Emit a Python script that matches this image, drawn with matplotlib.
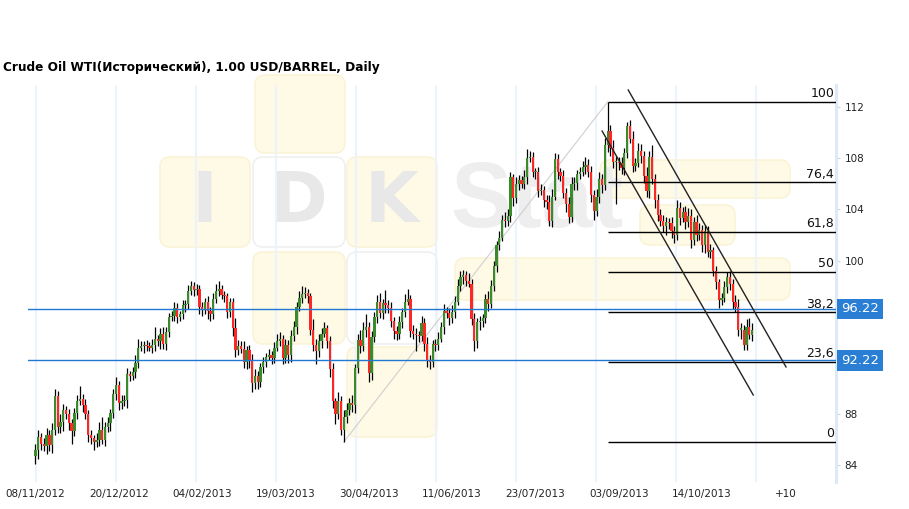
import numpy as np
import matplotlib.pyplot as plt
from matplotlib.patches import FancyBboxPatch
import matplotlib.transforms as mtransforms

## data
title = "Crude Oil WTI(Исторический), 1.00 USD/BARREL, Daily"

first_open = 84.7
close = [
    85.2, 86.2, 85.7, 85.5, 86.4, 85.6, 86.8, 89.4, 87.0, 87.4,
    88.3, 88.0, 87.3, 86.7, 88.1, 89.0, 89.2, 88.7, 88.0, 86.4,
    86.1, 85.8, 86.0, 86.8, 86.0, 87.0, 87.3, 88.1, 89.6, 90.3,
    88.9, 89.0, 89.1, 91.1, 91.0, 91.3, 92.0, 93.2, 93.3, 93.4,
    93.3, 93.2, 93.4, 93.9, 93.7, 94.3, 93.5, 94.4, 95.6, 95.7,
    96.3, 95.6, 95.8, 96.5, 96.6, 97.6, 98.0, 97.7, 97.8, 96.4,
    96.2, 96.8, 96.1, 95.8, 97.0, 97.6, 97.8, 97.3, 97.2, 96.0,
    96.8, 94.7, 93.0, 93.3, 93.1, 92.1, 93.0, 92.2, 90.4, 91.0,
    90.5, 91.7, 92.1, 92.5, 92.6, 92.4, 93.2, 93.7, 93.9, 92.4,
    93.4, 92.6, 94.1, 94.8, 96.4, 97.1, 97.4, 97.5, 97.2, 94.6,
    93.4, 92.9, 93.7, 94.3, 94.7, 93.7, 91.5, 89.0, 88.0, 89.0,
    86.8, 87.8, 88.3, 88.9, 88.7, 91.6, 93.8, 93.3, 94.6, 94.8,
    91.2, 94.0, 95.6, 96.8, 95.9, 96.7, 96.5, 96.3, 95.3, 94.5,
    94.3, 95.2, 96.0, 96.8, 97.0, 94.5, 94.3, 94.2, 94.1, 95.1,
    93.5, 92.2, 92.1, 93.5, 93.4, 93.9, 94.8, 96.1, 95.9, 95.5,
    96.0, 96.8, 98.0, 98.7, 98.9, 98.4, 98.2, 95.4, 93.7, 95.2,
    95.3, 95.5, 97.0, 96.6, 98.0, 99.6, 101.2, 101.8, 103.2, 103.1,
    103.5, 106.5, 104.9, 106.0, 106.3, 106.0, 106.5, 108.0, 108.1, 106.9,
    106.9, 105.4, 105.5, 104.7, 104.6, 103.1, 105.0, 107.9, 106.9, 106.6,
    105.3, 104.4, 103.4, 106.0, 106.1, 106.8, 106.9, 107.3, 107.5, 106.9,
    105.1, 103.9, 105.0, 106.4, 105.9, 109.0, 110.1, 108.8, 107.7, 107.7,
    107.6, 107.2, 108.4, 110.5, 109.5, 107.4, 107.6, 108.6, 108.2, 106.6,
    105.4, 108.1, 106.4, 104.7, 103.6, 103.1, 102.7, 103.0, 102.9, 102.3,
    102.0, 104.1, 103.3, 103.8, 103.0, 103.5, 101.6, 103.0, 102.0, 102.4,
    101.2, 102.3, 100.7, 100.8, 99.2, 98.3, 96.9, 97.1, 97.9, 98.7,
    98.2, 96.8, 96.4, 94.6, 94.6, 93.4, 94.8, 94.2, 94.6,
]
up_wick = [
    0.5, 0.6, 0.3, 0.4, 0.5, 0.4, 0.5, 0.6, 0.4, 0.6,
    0.5, 0.3, 0.4, 0.3, 0.4, 0.5, 1.0, 0.4, 0.5, 0.3,
    0.4, 0.3, 0.5, 0.6, 1.0, 0.4, 0.5, 0.3, 0.4, 0.6,
    0.3, 0.5, 0.4, 0.5, 0.3, 0.4, 0.6, 0.7, 0.4, 0.3,
    0.4, 0.3, 0.5, 0.9, 0.3, 0.4, 0.5, 0.4, 0.3, 0.4,
    0.5, 0.4, 0.3, 0.4, 0.3, 0.5, 0.4, 0.3, 0.4, 0.3,
    0.4, 0.3, 0.4, 0.3, 0.5, 0.6, 0.6, 0.3, 0.3, 0.3,
    0.3, 0.3, 0.8, 0.5, 0.4, 0.6, 0.3, 0.4, 0.5, 0.5,
    0.4, 0.3, 0.4, 0.3, 0.5, 0.3, 0.4, 0.6, 0.5, 0.3,
    0.5, 0.4, 0.5, 0.5, 0.4, 0.5, 0.6, 0.4, 0.3, 0.3,
    0.8, 0.5, 0.6, 0.4, 0.5, 0.3, 0.4, 0.5, 0.3, 0.7,
    0.4, 0.5, 0.6, 0.4, 0.6, 0.3, 0.5, 0.8, 0.6, 1.0,
    0.4, 0.5, 0.4, 0.5, 0.7, 0.3, 1.0, 0.4, 0.5, 0.3,
    0.4, 0.5, 0.3, 0.6, 0.8, 0.3, 0.5, 0.4, 0.3, 0.6,
    0.4, 0.5, 0.4, 0.3, 0.4, 0.5, 0.4, 0.5, 0.3, 0.4,
    0.5, 0.4, 0.6, 0.5, 0.4, 0.3, 0.6, 0.4, 0.5, 0.3,
    0.4, 0.3, 0.4, 0.6, 0.5, 0.4, 0.3, 0.5, 0.4, 0.6,
    0.5, 0.4, 0.3, 0.5, 0.4, 0.3, 0.6, 0.7, 0.5, 0.4,
    0.3, 0.4, 0.5, 0.3, 0.4, 0.5, 0.6, 0.5, 0.4, 0.3,
    0.5, 0.4, 0.6, 0.5, 0.4, 0.3, 0.4, 0.5, 0.6, 0.4,
    0.5, 0.4, 0.6, 0.5, 0.4, 0.6, 2.3, 0.5, 0.6, 0.5,
    0.4, 0.5, 0.4, 0.3, 0.5, 0.6, 0.4, 0.6, 0.5, 0.4,
    0.7, 0.5, 0.9, 0.4, 0.5, 0.4, 0.5, 0.4, 0.3, 0.5,
    0.4, 0.6, 0.5, 0.4, 0.5, 0.6, 0.5, 0.4, 0.6, 0.5,
    0.4, 0.5, 0.4, 0.5, 0.3, 0.4, 0.3, 0.4, 0.5, 0.4,
    0.5, 0.4, 0.5, 0.6, 0.5, 0.4, 0.6, 0.7, 0.5,
]
dn_wick = [
    0.6, 0.7, 0.5, 0.4, 0.6, 0.5, 0.6, 0.4, 0.5, 0.5,
    0.7, 0.4, 0.5, 1.0, 0.4, 0.5, 0.3, 0.5, 0.4, 0.6,
    0.4, 0.6, 0.4, 0.5, 0.3, 0.5, 0.4, 0.6, 0.4, 0.5,
    0.6, 0.5, 0.4, 0.6, 0.4, 0.3, 0.5, 0.4, 0.3, 0.5,
    0.4, 0.3, 0.4, 0.5, 0.4, 0.6, 0.4, 0.5, 0.4, 0.3,
    0.4, 0.5, 0.3, 0.4, 0.5, 0.4, 0.3, 0.5, 0.4, 0.6,
    0.5, 0.4, 0.7, 0.5, 0.4, 0.3, 0.4, 0.3, 0.4, 0.5,
    0.4, 0.6, 0.5, 0.4, 0.3, 0.5, 0.6, 0.6, 0.7, 0.4,
    0.5, 0.4, 0.5, 0.4, 0.3, 0.5, 0.4, 0.3, 0.4, 0.5,
    0.4, 0.6, 0.5, 0.4, 0.5, 0.3, 0.4, 0.3, 0.5, 0.4,
    0.5, 1.0, 0.4, 0.5, 0.3, 0.5, 0.6, 0.5, 0.8, 0.4,
    0.4, 0.97, 0.5, 0.4, 0.5, 0.6, 0.4, 0.5, 0.4, 0.6,
    0.7, 0.5, 0.4, 0.5, 0.4, 0.5, 0.6, 0.4, 0.5, 0.6,
    0.5, 0.4, 0.5, 0.4, 0.3, 0.5, 0.4, 1.3, 0.5, 0.4,
    0.6, 0.5, 0.6, 0.4, 0.5, 0.4, 0.3, 0.5, 0.4, 0.5,
    0.4, 0.5, 0.3, 0.4, 0.5, 0.4, 0.3, 0.4, 0.8, 0.5,
    0.6, 0.5, 0.4, 0.5, 0.3, 0.4, 0.5, 0.4, 0.3, 0.5,
    0.4, 0.5, 0.6, 0.4, 0.5, 0.3, 0.4, 0.5, 0.3, 0.4,
    0.5, 0.4, 0.3, 0.5, 0.6, 0.4, 0.5, 0.3, 0.5, 0.4,
    0.4, 0.6, 0.5, 0.4, 0.5, 0.6, 0.4, 0.3, 0.5, 0.4,
    0.5, 0.7, 0.4, 0.5, 0.6, 0.4, 0.5, 0.6, 0.5, 3.3,
    0.5, 0.4, 0.5, 0.4, 0.3, 0.5, 0.4, 0.3, 0.6, 0.5,
    0.4, 0.5, 0.4, 0.6, 0.5, 0.4, 0.5, 0.7, 0.4, 0.5,
    0.6, 0.4, 0.5, 0.3, 0.5, 0.4, 0.6, 0.4, 0.5, 0.4,
    0.5, 0.6, 0.4, 0.5, 0.4, 0.5, 0.6, 0.4, 0.3, 0.4,
    0.5, 0.6, 0.4, 0.5, 0.7, 0.4, 0.4, 0.3, 0.5,
]

date_labels = ["08/11/2012", "20/12/2012", "04/02/2013", "19/03/2013", "30/04/2013",
               "11/06/2013", "23/07/2013", "03/09/2013", "14/10/2013", "+10"]
date_pos = [0, 30, 60, 90, 120, 150, 180, 210, 240, 270]
y_ticks = [84, 88, 100, 104, 108, 112]

# fibonacci retracement drawn from the April low to the August high
fib_low, fib_high = 85.83, 112.4
fib_low_idx, fib_high_idx = 111, 206
fib_levels = [0, 23.6, 38.2, 50, 61.8, 76.4, 100]
fib_names = ["0", "23,6", "38,2", "50", "61,8", "76,4", "100"]

marked_levels = [96.22, 92.22]

# trend channel (index, price) end points
chan_a_x, chan_a_y = [213.4, 270.2], [113.33, 91.69]
chan_b_x, chan_b_y = [204.0, 258.4], [110.12, 89.5]

##Build Plot
W, H = 909, 509
fig = plt.figure(figsize=(W / 100, H / 100), dpi=100)

# watermark layer in pixel coordinates
bg = fig.add_axes([0, 0, 1, 1])
bg.set_xlim(0, W)
bg.set_ylim(H, 0)
bg.axis("off")

YEL, YEL_E = "#fefae6", "#faf3d6"
for (x, y, w, h, fc, ec) in [(255, 75, 90, 78, YEL, YEL_E), (160, 157, 90, 90, YEL, YEL_E),
                             (253, 157, 92, 90, "white", "#f0f0f0"), (347, 157, 90, 90, YEL, YEL_E),
                             (253, 252, 92, 92, YEL, YEL_E), (347, 252, 90, 92, "white", "#f0f0f0"),
                             (347, 347, 90, 90, YEL, YEL_E),
                             (455, 258, 335, 42, YEL, YEL_E), (600, 160, 190, 38, YEL, YEL_E),
                             (640, 205, 95, 40, YEL, YEL_E)]:
    bg.add_patch(FancyBboxPatch((x, y), w, h, boxstyle="round,pad=0,rounding_size=10",
                                fc=fc, ec=ec, lw=1.2))
for (x, s) in [(205, "I"), (299, "D"), (392, "K")]:
    bg.text(x, 203, s, fontsize=50, weight="bold", color="#e8e8e8", ha="center", va="center")
bg.text(450, 203, "Stat", fontsize=66, weight="bold", color="#eeeeee", ha="left", va="center",
        family="Liberation Sans")

ax = fig.add_axes([28 / W, 1 - 482 / H, 808 / W, 397 / H])
ax.patch.set_alpha(0)
ax.set_xlim(-2.7, 288.2)
ax.set_ylim(82.7, 113.72)

# vertical grid
for gx in [0.2 + 28.81 * k for k in range(10)]:
    ax.axvline(gx, color="#edf3fa", lw=1.5, zorder=0.5)

n = len(close)
idx = np.arange(n)
c = np.array(close)
o = np.array([first_open] + close[:-1])
hi = np.maximum(o, c) + np.array(up_wick)
lo = np.minimum(o, c) - np.array(dn_wick)
rise = c >= o

ax.vlines(idx, lo, hi, color="black", lw=0.9, zorder=2)
ax.bar(idx, np.maximum(np.abs(c - o), 0.1), bottom=np.minimum(o, c), width=0.82,
       color=np.where(rise, "#3a8c2a", "#ff2626"), lw=0, zorder=3)

# blue marked levels
for v in marked_levels:
    ax.axhline(v, color="#1f78d2", lw=1, zorder=4)
tr = mtransforms.blended_transform_factory(ax.transAxes, ax.transData)
for v in marked_levels:
    ax.text(1.006, v, f"{v:.2f}", transform=tr, color="white", fontsize=9.5, ha="left", va="center",
            bbox=dict(boxstyle="square,pad=0.3", fc="#2a7fd5", ec="none"), zorder=6, clip_on=False)

# fibonacci
ax.plot([fib_low_idx, fib_high_idx], [fib_low, fib_high], color="#cfcfcf", lw=0.8, zorder=1.5)
for lev, name in zip(fib_levels, fib_names):
    p = fib_low + (fib_high - fib_low) * lev / 100
    ax.hlines(p, fib_high_idx, 288.2, color="black", lw=1, zorder=4)
    ax.text(287.5, p + 0.12, name, ha="right", va="bottom", fontsize=9, color="#111111", zorder=5)

# channel
ax.plot(chan_a_x, chan_a_y, color="#222222", lw=1, zorder=4)
ax.plot(chan_b_x, chan_b_y, color="#222222", lw=1, zorder=4)

# axes styling
for s in ["top", "left", "bottom"]:
    ax.spines[s].set_visible(False)
ax.spines["right"].set_color("#dde9f5")
ax.spines["right"].set_linewidth(2.2)
ax.yaxis.tick_right()
ax.set_yticks(y_ticks)
ax.tick_params(axis="y", length=3, color="#c9d5e2", labelsize=7.5, pad=3, labelcolor="#222222")
ax.set_xticks(date_pos, date_labels)
ax.tick_params(axis="x", length=0, labelsize=7.5, pad=5, labelcolor="#222222")

fig.text(3 / W, 1 - 68 / H, title, fontsize=8.7, weight="bold", va="center", ha="left")

fig.savefig("out.png", dpi=100)
